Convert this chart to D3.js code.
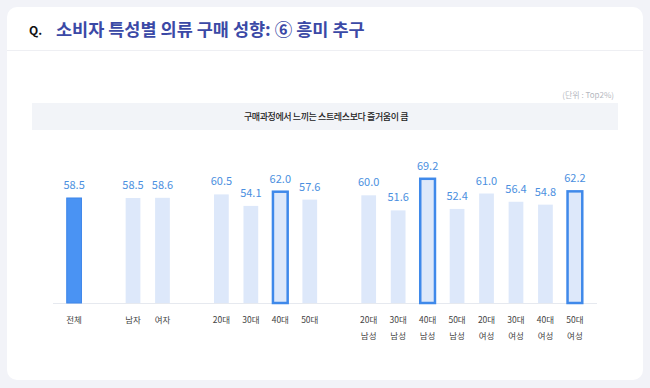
<!DOCTYPE html>
<meta charset="utf-8">
<head>
<title>소비자 특성별 의류 구매 성향</title>
<style>
body { margin: 0; background: #f2f3f8; }
svg { display: block; font-family: "Noto Sans CJK KR", "Noto Sans", sans-serif; }
</style>
</head>
<body>
<div id="chart"></div>
<script src="https://d3js.org/d3.v7.min.js"></script>
<script>
var width = 650,
    height = 388;

// bar groups, a blank slot sits between groups
var groups = [
	["전체"],
	["남자", "여자"],
	["20대", "30대", "40대", "50대"],
	["20대\n남성", "30대\n남성", "40대\n남성", "50대\n남성", "20대\n여성", "30대\n여성", "40대\n여성", "50대\n여성"]
];
var values = [58.5, 58.5, 58.6, 60.5, 54.1, 62.0, 57.6, 60.0, 51.6, 69.2, 52.4, 61.0, 56.4, 54.8, 62.2];
var highlighted = ["40대", "40대\n남성", "50대\n여성"];

var title = "소비자 특성별 의류 구매 성향: ⑥ 흥미 추구",
	subtitle = "구매과정에서 느끼는 스트레스보다 즐거움이 큼",
	unit = "(단위 : Top2%)";

// build slots (with gaps) and bar records
var slots = [], bars = [], k = 0;
groups.forEach(function(g, gi) {
	if (gi > 0) slots.push("gap" + gi);
	g.forEach(function(name) {
		slots.push(name);
		bars.push({name: name, value: values[k++], total: gi == 0});
	});
});

var svg = d3.select("#chart").append("svg")
	.attr("width", width)
	.attr("height", height);

// card
svg.append("rect")
	.attr("x", 7).attr("y", 7)
	.attr("width", 636).attr("height", 373)
	.attr("rx", 10)
	.attr("fill", "#fff");

svg.append("line")
	.attr("x1", 7).attr("x2", 643)
	.attr("y1", 50.5).attr("y2", 50.5)
	.attr("stroke", "#eeeff3");

svg.append("text")
	.attr("x", 29).attr("y", 35)
	.attr("font-size", 12).attr("font-weight", 700)
	.attr("fill", "#111")
	.text("Q.");

svg.append("text")
	.attr("x", 56).attr("y", 36)
	.attr("font-size", 17.5).attr("font-weight", 700)
	.attr("fill", "#3b49a6")
	.text(title);

svg.append("text")
	.attr("x", 614).attr("y", 98)
	.attr("text-anchor", "end")
	.attr("font-size", 8)
	.attr("fill", "#b5b8c0")
	.text(unit);

svg.append("rect")
	.attr("x", 32).attr("y", 103)
	.attr("width", 586).attr("height", 27)
	.attr("fill", "#f2f4f8");

svg.append("text")
	.attr("x", 326).attr("y", 120)
	.attr("text-anchor", "middle")
	.attr("font-size", 9).attr("font-weight", 500)
	.attr("letter-spacing", -0.4)
	.attr("fill", "#222")
	.text(subtitle);

// scales
var x = d3.scaleBand()
	.domain(slots)
	.range([52, 597])
	.padding(0.5);

var y = d3.scaleLinear()
	.domain([0, 100])
	.range([303, 123.5]);

svg.append("line")
	.attr("x1", 53).attr("x2", 597)
	.attr("y1", y(0) + 0.5).attr("y2", y(0) + 0.5)
	.attr("stroke", "#e6e9ef");

var bar = svg.append("g").selectAll("g")
	.data(bars)
	.enter().append("g");

bar.append("rect")
	.attr("x", function(d) { return x(d.name); })
	.attr("y", function(d) { return y(d.value); })
	.attr("width", x.bandwidth())
	.attr("height", function(d) { return y(0) - y(d.value); })
	.attr("fill", function(d) { return d.total ? "#4a93f3" : "#dde8fa"; })
	.attr("stroke", function(d) {
		if (d.total) return "#3d86ea";
		return highlighted.indexOf(d.name) >= 0 ? "#3f89ea" : "none";
	})
	.attr("stroke-width", function(d) { return d.total ? 1 : 2.5; });

bar.append("text")
	.attr("x", function(d) { return x(d.name) + x.bandwidth() / 2; })
	.attr("y", function(d) { return y(d.value) - 9; })
	.attr("text-anchor", "middle")
	.attr("font-size", 11)
	.attr("fill", "#4b8fe0")
	.text(function(d) { return d.value.toFixed(1); });

bar.append("text")
	.attr("text-anchor", "middle")
	.attr("font-size", 8.5)
	.attr("fill", "#444")
	.selectAll("tspan")
	.data(function(d) { return d.name.split("\n").map(function(s) { return {s: s, n: d.name}; }); })
	.enter().append("tspan")
	.attr("x", function(t) { return x(t.n) + x.bandwidth() / 2; })
	.attr("y", function(t, i) { return 323 + i * 16; })
	.text(function(t) { return t.s; });
</script>
</body>
